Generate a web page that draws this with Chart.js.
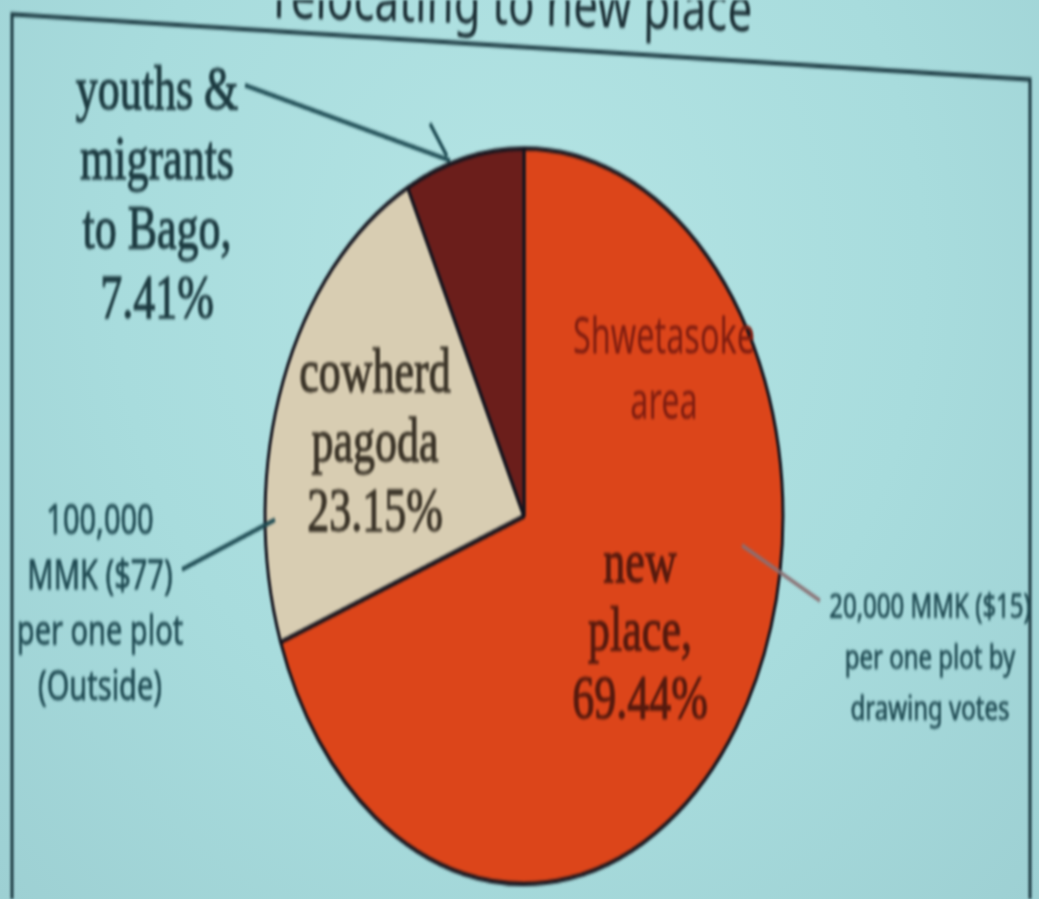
<!DOCTYPE html>
<html>
<head>
<meta charset="utf-8">
<script src="https://cdn.jsdelivr.net/npm/chart.js@4.4.1/dist/chart.umd.min.js"></script>
<style>
  html, body { margin: 0; padding: 0; width: 1039px; height: 899px; overflow: hidden; }
  body { background: radial-gradient(ellipse at 50% 30%, #b4e4e4 0%, #a8dcdd 55%, #9dd0d3 100%); }
  /* the photo is stretched vertically, so the whole drawing is too */
  #wrap { position: absolute; left: 0; top: 0; width: 1039px; height: 633px;
          transform: scaleY(1.42); transform-origin: 0 0; filter: blur(1px); }
</style>
</head>
<body>
<div id="wrap"><canvas id="pie" width="1039" height="633"></canvas></div>
<script>
const labels = ['new place', 'cowherd pagoda', 'youths & migrants to Bago'];
const shares = [69.44, 23.15, 7.41];
const sliceColors = ['#dc451a', '#d8cdb2', '#6b1e1b'];

const titleText = 'relocating to new place';
const areaNote = ['Shwetasoke', 'area'];
const outsideNote = ['100,000', 'MMK ($77)', 'per one plot', '(Outside)'];
const votesNote = ['20,000 MMK ($15)', 'per one plot by', 'drawing votes'];

const pct = v => v.toFixed(2) + '%';
const sliceText = [
    ['new', 'place,', pct(shares[0])],
    ['cowherd', 'pagoda', pct(shares[1])],
    ['youths &', 'migrants', 'to Bago,', pct(shares[2])]
];

// draws centred lines; sx squeezes the text sideways, bold adds a thin outline
function textLines(ctx, lines, x, y, gap, font, color, sx = 1, bold = 0) {
    ctx.save();
    ctx.translate(x, y);
    ctx.scale(sx, 1);
    ctx.font = font;
    ctx.fillStyle = color;
    ctx.strokeStyle = color;
    ctx.lineWidth = bold;
    ctx.textAlign = 'center';
    ctx.textBaseline = 'middle';
    lines.forEach((t, i) => {
        ctx.fillText(t, 0, i * gap);
        if (bold) ctx.strokeText(t, 0, i * gap);
    });
    ctx.restore();
}

function line(ctx, pts, color, w) {
    ctx.strokeStyle = color;
    ctx.lineWidth = w;
    ctx.beginPath();
    ctx.moveTo(pts[0][0], pts[0][1]);
    pts.slice(1).forEach(p => ctx.lineTo(p[0], p[1]));
    ctx.stroke();
}

const slide = {
    id: 'slide',
    beforeDraw(chart) {
        const ctx = chart.ctx;
        ctx.save();
        // slide frame
        line(ctx, [[12, 633], [12, 10], [1030, 56], [1030, 633]], '#1d3b43', 3);
        // title (cut by the top of the photo, tilted a little)
        ctx.translate(752, 22);
        ctx.rotate(0.02);
        ctx.font = '44px "Noto Sans"';
        ctx.fillStyle = '#1b2f35';
        ctx.textAlign = 'right';
        ctx.textBaseline = 'alphabetic';
        ctx.fillText(titleText, 0, 0);
        ctx.restore();
    },
    afterDraw(chart) {
        const ctx = chart.ctx;
        ctx.save();
        const serif = '44px "Liberation Serif"';
        textLines(ctx, sliceText[2], 157, 65, 49, serif, '#1c3a40', 1, 0.9);
        textLines(ctx, sliceText[1], 375, 264, 49, serif, '#3b3428', 1, 0.9);
        textLines(ctx, sliceText[0], 640, 398, 48, serif, '#561a0e', 1, 0.9);
        textLines(ctx, areaNote, 664, 239, 46, '36px "Noto Sans"', '#7e1d10', 0.9);
        textLines(ctx, outsideNote, 100, 368, 39, '29px "Noto Sans"', '#1f4a52', 1, 0.5);
        textLines(ctx, votesNote, 930, 428, 36, '24px "Noto Sans"', '#1f4a52', 1, 0.5);

        // leader lines
        line(ctx, [[245, 60], [450, 113]], '#1d4a52', 3);
        line(ctx, [[430, 87], [447, 110]], '#1d4a52', 3);
        line(ctx, [[182, 401], [275, 366]], '#1d4a52', 3);
        line(ctx, [[742, 384], [820, 423]], '#8a6f72', 3);
        ctx.restore();
    }
};

new Chart(document.getElementById('pie'), {
    type: 'pie',
    data: {
        labels: labels,
        datasets: [{
            data: shares,
            backgroundColor: sliceColors,
            borderColor: '#14141e',
            borderWidth: 3
        }]
    },
    options: {
        responsive: false,
        animation: false,
        layout: { padding: { left: 9, right: 0, top: 103, bottom: 9 } },
        plugins: { legend: { display: false }, tooltip: { enabled: false } }
    },
    plugins: [slide]
});
</script>
</body>
</html>
